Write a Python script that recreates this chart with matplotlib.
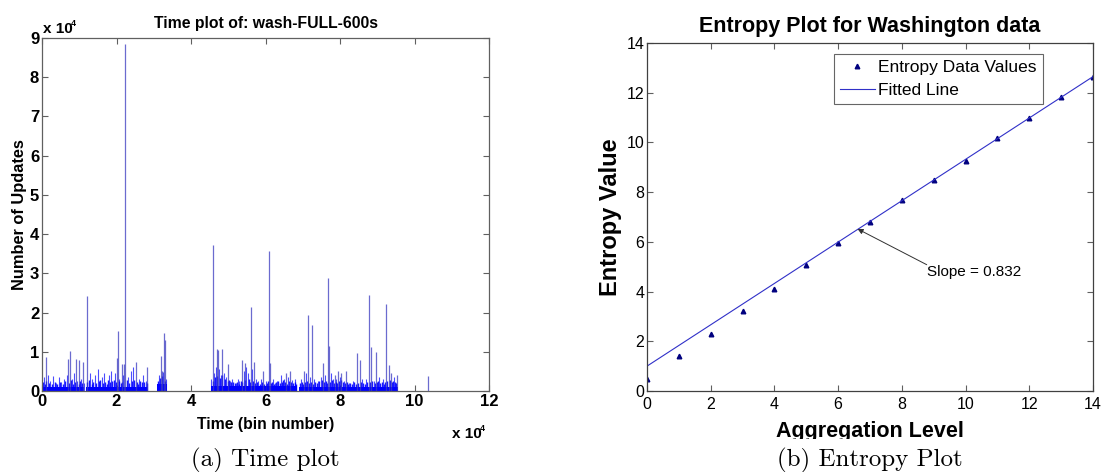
import matplotlib
matplotlib.use("Agg")
import matplotlib.pyplot as plt
from matplotlib.patches import Rectangle

# ---------------- data: time plot (bin number, number of updates) ----------------
seg_start = [0, 11800, 31000, 45500, 69000]
seg_end = [11300, 28500, 33500, 68500, 95700]
seg_level = [1100, 1100, 1800, 1300, 1100]

major_x = [1200, 7100, 7600, 9200, 10000, 10900, 12200, 20000, 20300, 21400, 22000,
           22400, 25200, 28200, 32000, 32200, 32700, 32900, 46000, 46900, 47300,
           48400, 50000, 53600, 54400, 56000, 56900, 59400, 61000, 61200, 65600,
           66500, 70400, 71400, 72500, 75400, 76800, 77000, 78600, 79500, 80400,
           81700, 84600, 85300, 87800, 88300, 89700, 92400, 93100, 93800, 95400,
           103600]
major_y = [8700, 8200, 10100, 8200, 7900, 7400, 24100, 8500, 15400, 7000, 6900,
           88500, 7500, 6000, 9000, 5000, 14700, 13000, 37300, 10600, 10400,
           10600, 6800, 8000, 7200, 21400, 7300, 5000, 35700, 7200, 4500,
           5000, 5000, 19300, 16800, 7200, 28900, 11500, 4000, 5000, 4500,
           5000, 9600, 7900, 24600, 11100, 10000, 22200, 6600, 4500, 4000,
           3800]

minor_x = [500, 1500, 2200, 3000, 3800, 4500, 5200, 6000, 6600, 8000, 8600, 9500,
           10500, 11200, 13000, 13500, 14200, 15000, 16000, 16600, 18000, 18500,
           19500, 20800, 21800, 23000, 23800, 24500, 26000, 27000, 27800,
           31500, 32500, 33200,
           45500, 46200, 46600, 47600, 48000, 48800, 49500, 50500, 51000, 52000,
           52500, 53000, 54200, 54800, 55200, 56400, 57500, 58000, 58800, 60000,
           62000, 62500, 63000, 64200, 65000, 66000, 67000, 68000, 69500, 70800,
           72000, 73000, 74000, 74800, 76000, 77500, 78000, 79000, 80000, 81000,
           82500, 83500, 86000, 87000, 89000, 90500, 91500, 94500]
minor_y = [3500, 4000, 2500, 3800, 2000, 3500, 2200, 3000, 4000, 3000, 4500, 2500,
           3000, 2000, 4500, 3000, 4000, 5500, 3500, 4500, 4000, 5000,
           4500, 3000, 4000, 3500, 5000, 6000, 3000, 4000, 2500,
           4200, 4800, 3000,
           3000, 4500, 6000, 5500, 4000, 4500, 3500, 2500, 3000, 2000,
           3000, 2500, 5000, 6000, 4500, 5500, 3000, 2500, 3000, 2500,
           3000, 2000, 2500, 4000, 3000, 3500, 2800, 3000, 3000, 4500,
           3500, 3000, 2500, 3500, 4000, 4500, 3000, 3000, 3500, 2500,
           2000, 2500, 3000, 3000, 2500, 3500, 3000, 3500]

small_x = [200, 800, 1100, 1800, 2600, 3400, 4100, 4800, 5600, 6300, 7300, 7800,
           8300, 8900, 9800, 10300, 10800, 12000, 12600, 13300, 13800, 14600,
           15300, 15700, 16300, 17000, 17400, 17800, 18300, 18900, 19200, 19800,
           20600, 21100, 21600, 22700, 23300, 24100, 24800, 25500, 25900, 26400,
           26800, 27400, 28100, 31200, 31800, 32300, 33000,
           45800, 46400, 47000, 47800, 48300, 49100, 49800, 50200, 50800, 51400,
           51800, 52300, 52800, 53300, 53800, 54600, 55500, 55800, 56700, 57200,
           57800, 58500, 59100, 59700, 60400, 60800, 61500, 61800, 62300, 62800,
           63400, 63800, 64500, 64800, 65300, 65800, 66300, 66800, 67400, 67800,
           68300, 69300, 69800, 70200, 70600, 71100, 71700, 72300, 72800, 73300,
           73700, 74400, 75100, 75700, 76300, 76600, 77300, 77800, 78300, 78800,
           79300, 79800, 80200, 80700, 81300, 81900, 82200, 82800, 83200, 83800,
           84200, 84900, 85600, 86300, 86700, 87300, 88000, 88600, 89300, 89900,
           90200, 90800, 91200, 91800, 92100, 92700, 93400, 94000, 94300, 94800,
           95100]
small_y = [2200, 1800, 2600, 2000, 1700, 2400, 1900, 2300, 1800, 2600, 2100, 2800,
           1900, 2200, 1700, 2500, 2000, 2300, 2700, 1900, 2400, 2100,
           2600, 2900, 2000, 2400, 1800, 2700, 2300, 2500, 2900, 2200,
           2600, 2000, 2400, 2800, 2100, 2500, 2700, 2300, 1900, 2600,
           2200, 2400, 2000, 2500, 3200, 3800, 2600,
           2600, 3500, 3800, 3200, 4200, 3000, 2500, 2800, 2200, 2400,
           2000, 2300, 1900, 2500, 2200, 2800, 3000, 2400, 2600, 2100,
           2300, 1900, 2200, 1800, 2100, 2500, 2000, 2300, 1900, 2200,
           2600, 2000, 2400, 2800, 2200, 1900, 2600, 2300, 2000, 2400,
           1800, 2000, 2400, 1900, 2200, 2600, 2100, 2400, 1900, 2200,
           2000, 2500, 2800, 2300, 2600, 2000, 2400, 2900, 2100, 2300,
           2000, 2500, 2700, 2200, 2000, 2400, 1800, 2100, 1900, 2200,
           1800, 2000, 2300, 2100, 1900, 2400, 2200, 2500, 2000, 2300,
           2600, 2100, 2400, 1900, 2200, 2500, 2800, 2200, 2600, 2300,
           2000]

time_xticks = [0, 2, 4, 6, 8, 10, 12]
time_yticks = [0, 1, 2, 3, 4, 5, 6, 7, 8, 9]

# ---------------- data: entropy plot ----------------
agg_level = [0, 1, 2, 3, 4, 5, 6, 7, 8, 9, 10, 11, 12, 13, 14]
entropy = [0.49, 1.39, 2.29, 3.22, 4.12, 5.05, 5.95, 6.80, 7.68, 8.47, 9.27,
           10.16, 10.97, 11.82, 12.62]
fit_intercept = 1.0
fit_slope = 0.832
entropy_ticks = [0, 2, 4, 6, 8, 10, 12, 14]

# ---------------- figure ----------------
W, H = 1104, 472
fig = plt.figure(figsize=(W / 100, H / 100), dpi=100)
SANS = "Liberation Sans"
spine_col = "#606060"

def fx(px):
    return px / W

def fy(py):
    return 1 - py / H

# ---- left: time plot ----
axL = fig.add_axes([fx(42), fy(391), (489 - 42) / W, (391 - 38) / H])
SC = 1e4
for s, e, lv in zip(seg_start, seg_end, seg_level):
    axL.fill_between([s / SC, e / SC], 0, lv / SC, color="#0000ff", lw=0)
axL.vlines([x / SC for x in small_x], 0, [y / SC for y in small_y],
           color="#0000ff", lw=1.0, alpha=0.9)
axL.vlines([x / SC for x in minor_x], 0, [y / SC for y in minor_y],
           color="#0000ff", lw=0.8, alpha=0.7)
axL.vlines([x / SC for x in major_x], 0, [y / SC for y in major_y],
           color="#3a3ac0", lw=0.9, alpha=0.75)
axL.set_xlim(0, 12)
axL.set_ylim(0, 9)
axL.set_xticks(time_xticks)
axL.set_yticks(time_yticks)
axL.set_xticklabels([str(t) for t in time_xticks], fontfamily=SANS,
                    fontweight="bold", fontsize=12)
axL.set_yticklabels([str(t) for t in time_yticks], fontfamily=SANS,
                    fontweight="bold", fontsize=12)
axL.tick_params(direction="in", top=True, right=True, length=4, width=0.8,
                color=spine_col, pad=2)
for sp in axL.spines.values():
    sp.set_color(spine_col)
    sp.set_linewidth(0.9)
axL.set_title("Time plot of: wash-FULL-600s", fontfamily=SANS,
              fontweight="bold", fontsize=11.3, pad=7)
axL.set_xlabel("Time (bin number)", fontfamily=SANS, fontweight="bold",
               fontsize=11.3, labelpad=6)
axL.set_ylabel("Number of Updates", fontfamily=SANS, fontweight="bold",
               fontsize=11.8, labelpad=2)
# MATLAB style exponent labels
fig.text(fx(43), fy(33), "x 10", fontfamily=SANS, fontweight="bold",
         fontsize=11, ha="left", va="baseline")
fig.text(fx(71), fy(26), "4", fontfamily=SANS, fontweight="bold",
         fontsize=6.5, ha="left", va="baseline")
fig.text(fx(452), fy(438), "x 10", fontfamily=SANS, fontweight="bold",
         fontsize=11, ha="left", va="baseline")
fig.text(fx(480), fy(431), "4", fontfamily=SANS, fontweight="bold",
         fontsize=6.5, ha="left", va="baseline")

# ---- right: entropy plot ----
axR = fig.add_axes([fx(647), fy(391), (1093 - 647) / W, (391 - 43) / H])
fit_x = [agg_level[0], agg_level[-1]]
fit_y = [fit_intercept + fit_slope * v for v in fit_x]
axR.plot(agg_level, entropy, linestyle="none", marker="^", markersize=3.3,
         color="#00007f", label="Entropy Data Values")
axR.plot(fit_x, fit_y, color="#3030c8", lw=0.8, label="Fitted Line")
axR.set_xlim(0, 14)
axR.set_ylim(0, 14)
axR.set_xticks(entropy_ticks)
axR.set_yticks(entropy_ticks)
axR.set_xticklabels([str(t) for t in entropy_ticks], fontfamily=SANS, fontsize=11.5)
axR.set_yticklabels([str(t) for t in entropy_ticks], fontfamily=SANS, fontsize=11.5)
axR.tick_params(direction="in", top=True, right=True, length=4, width=0.8,
                color=spine_col, pad=2)
axR.tick_params(axis="x", pad=4)
for sp in axR.spines.values():
    sp.set_color("#404040")
    sp.set_linewidth(0.9)
axR.set_title("Entropy Plot for Washington data", fontfamily=SANS,
              fontweight="bold", fontsize=15.5, pad=8)
axR.set_xlabel("Aggregation Level", fontfamily=SANS, fontweight="bold",
               fontsize=15.5, labelpad=7)
axR.set_ylabel("Entropy Value", fontfamily=SANS, fontweight="bold",
               fontsize=17, labelpad=3)
leg = axR.legend(loc="upper left", bbox_to_anchor=((834 - 647) / 446, 1 - (54 - 43) / 348),
                 prop={"family": SANS, "size": 12.5}, frameon=True, fancybox=False,
                 borderpad=0.35, handlelength=2.0, handletextpad=0.2,
                 labelspacing=0.45, borderaxespad=0)
leg.get_frame().set_edgecolor("#404040")
leg.get_frame().set_linewidth(0.8)
axR.annotate("Slope = 0.832", xy=(6.61, 6.52), xytext=(8.78, 4.8),
             fontfamily=SANS, fontsize=11, ha="left", va="center",
             arrowprops=dict(arrowstyle="-|>", color="#303030", lw=0.7,
                             mutation_scale=8, shrinkA=0, shrinkB=0,
                             patchA=None, relpos=(0.0, 1.0)))

# cover strip that clips the x label of the right plot (as in the reference)
fig.patches.append(Rectangle((fx(560), fy(472)), (1104 - 560) / W, 33 / H,
                             transform=fig.transFigure, facecolor="white",
                             edgecolor="none", zorder=5))

# captions
fig.text(fx(265), fy(460), "(a) Time plot", fontfamily="cmr10", fontsize=18,
         ha="center", va="center", zorder=6)
fig.text(fx(870), fy(460), "(b) Entropy Plot", fontfamily="cmr10", fontsize=18,
         ha="center", va="center", zorder=6)

fig.savefig("out.png", dpi=100)
